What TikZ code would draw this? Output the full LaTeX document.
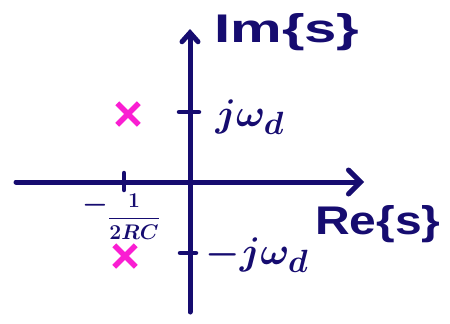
\documentclass[tikz,border=0pt]{standalone}
\usepackage{amsmath}
\usepackage{fontspec}
\setmainfont{Liberation Sans}
\usepackage{tikz}
\usetikzlibrary{arrows.meta,shapes.misc}
\definecolor{navy}{RGB}{22,12,112}
\definecolor{polepink}{RGB}{250,30,210}
\tikzset{
  axis/.style={draw=navy,line width=5pt,line cap=round},
  tk/.style={draw=navy,line width=4.5pt,line cap=round},
  pole/.style={draw=polepink,cross out,line width=5.5pt,minimum size=16pt,inner sep=0pt},
  lbl/.style={text=navy,inner sep=0pt,font=\bfseries\boldmath},
  mlbl/.style={text=navy,inner sep=0pt,font=\Huge\boldmath,scale=1.55},
}

\begin{document}
\begin{tikzpicture}[x=1pt,y=-1pt]
\useasboundingbox (0,0) rectangle (450,324);
% axes
\coordinate (o) at (190,182);
\coordinate (imlo) at (190,312);
\coordinate (imhi) at (190,29);
\coordinate (relo) at (16,182);
\coordinate (rehi) at (364,182);
\draw[axis,-{Straight Barb[length=9pt,width=16pt,line cap=round]}] (imlo) -- (imhi);
\draw[axis,-{Straight Barb[length=12pt,width=24pt,line cap=round]}] (relo) -- (rehi);
% ticks
\coordinate (wd) at (190,112);
\coordinate (mwd) at (190,253);
\coordinate (sig) at (124,182);
\draw[tk] ([xshift=-11pt]wd) -- ([xshift=9pt]wd);
\draw[tk] ([xshift=-10pt]mwd) -- ([xshift=6pt]mwd);
\draw[tk] ([yshift=-8pt]sig) -- ([yshift=9pt]sig);
% poles
\node[pole] (p1) at (128,114) {};
\node[pole] (p2) at (125,256) {};
% labels
\node[lbl,font=\fontsize{40}{40}\selectfont\bfseries,xscale=1.45] (im) at (287,32) {Im\{s\}};
\node[lbl,font=\fontsize{40}{40}\selectfont\bfseries,xscale=1.2] (re) at (378,224) {Re\{s\}};
\node[mlbl] (jw) at (250,117) {$j\omega_d$};
\node[mlbl] (mjw) at (257,255) {$-j\omega_d$};
\node[mlbl,scale=0.75] (mi) at (95,205) {$-$};
\node[lbl,font=\Huge\boldmath,scale=0.85] (fr) at (134,217) {$\dfrac{1}{2RC}$};
\end{tikzpicture}
\end{document}
